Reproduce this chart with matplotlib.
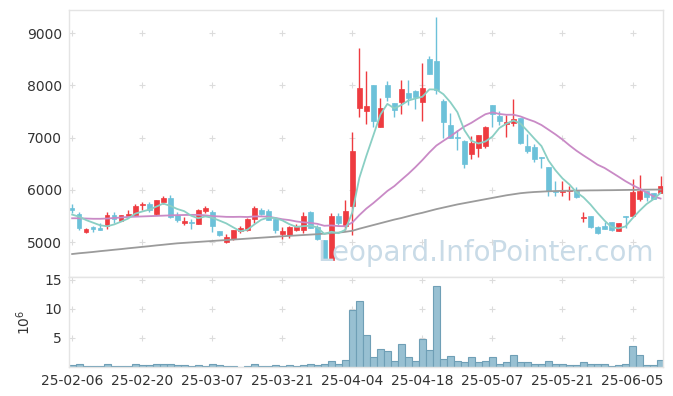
import matplotlib
matplotlib.use("Agg")
import matplotlib.pyplot as plt
import numpy as np

# ---- data ----
opens = [5650, 5540, 5190, 5290, 5270, 5300, 5520, 5410, 5500, 5525,
         5710, 5725, 5536, 5770, 5845, 5520, 5365, 5385, 5350, 5595,
         5570, 5210, 4995, 5065, 5215, 5235, 5445, 5610, 5595, 5440,
         5150, 5140, 5230, 5235, 5570, 5280, 5040, 4655, 5500, 5305,
         5695, 7575, 7500, 8005, 7200, 8005, 7660, 7690, 7855, 7890,
         7690, 8500, 8465, 7705, 7240, 7015, 6940, 6680, 6805, 6845,
         7625, 7415, 7255, 7285, 7370, 6840, 6815, 6620, 6430, 5985,
         5960, 5975, 5970, 5460, 5500, 5290, 5310, 5375, 5220, 5490,
         5505, 5825, 5970, 5930, 5945]
highs = [5720, 5575, 5275, 5310, 5370, 5570, 5570, 5525, 5605, 5730,
         5760, 5770, 5810, 5875, 5910, 5575, 5475, 5435, 5630, 5690,
         5615, 5215, 5150, 5230, 5305, 5465, 5690, 5650, 5630, 5445,
         5295, 5305, 5340, 5580, 5590, 5325, 5045, 5560, 5550, 5805,
         7105, 8710, 8275, 8010, 7755, 8090, 7670, 8100, 8100, 7910,
         8425, 8565, 9305, 7735, 7465, 7145, 6945, 7030, 7055, 7230,
         7630, 7500, 7435, 7735, 7380, 7070, 6880, 6625, 6435, 6175,
         6175, 6075, 6060, 5575, 5505, 5305, 5390, 5380, 5370, 5495,
         6200, 6280, 5975, 5940, 6265]
lows = [5560, 5230, 5180, 5190, 5225, 5240, 5360, 5405, 5475, 5510,
        5620, 5570, 5525, 5720, 5465, 5390, 5320, 5255, 5345, 5560,
        5185, 5120, 4985, 5045, 5165, 5215, 5370, 5510, 5415, 5180,
        5060, 5085, 5210, 5165, 5260, 5040, 4650, 4650, 5325, 5230,
        5135, 7390, 7255, 7210, 7195, 7700, 7390, 7445, 7625, 7540,
        7320, 8220, 7835, 7000, 6995, 6760, 6410, 6585, 6635, 6800,
        7195, 7250, 7020, 7220, 6880, 6700, 6540, 6425, 5880, 5880,
        5880, 5805, 5850, 5385, 5275, 5155, 5250, 5220, 5215, 5260,
        5500, 5790, 5790, 5820, 5940]
closes = [5610, 5260, 5250, 5250, 5230, 5520, 5435, 5520, 5545, 5695,
          5725, 5615, 5805, 5845, 5475, 5425, 5405, 5365, 5605, 5650,
          5300, 5140, 5090, 5225, 5275, 5440, 5650, 5545, 5430, 5230,
          5215, 5295, 5280, 5500, 5265, 5065, 4660, 5495, 5360, 5590,
          6745, 7950, 7605, 7325, 7575, 7775, 7520, 7925, 7755, 7770,
          7945, 8225, 7910, 7305, 7000, 6990, 6500, 6895, 7050, 7195,
          7460, 7325, 7305, 7355, 6900, 6750, 6585, 6600, 5970, 5965,
          5975, 5995, 5855, 5485, 5280, 5180, 5255, 5225, 5365, 5470,
          5960, 5970, 5870, 5830, 6070]
volumes = [0.3, 0.45, 0.15, 0.15, 0.15, 0.45, 0.15, 0.15, 0.15, 0.6,
           0.3, 0.3, 0.6, 0.45, 0.6, 0.3, 0.3, 0.1, 0.3, 0.1,
           0.6, 0.35, 0.15, 0.15, 0.02, 0.1, 0.45, 0.1, 0.1, 0.3,
           0.1, 0.3, 0.1, 0.3, 0.45, 0.3, 0.45, 1.0, 0.45, 1.2,
           9.9, 11.3, 5.45, 1.7, 3.05, 2.7, 1.0, 3.9, 1.7, 1.0,
           4.8, 2.9, 13.9, 1.3, 1.85, 1.0, 0.8, 1.7, 0.8, 1.0,
           1.7, 0.45, 0.8, 2.0, 0.8, 0.8, 0.6, 0.45, 1.0, 0.45,
           0.45, 0.3, 0.3, 0.8, 0.6, 0.6, 0.45, 0.15, 0.3, 0.45,
           3.55, 2.0, 0.3, 0.3, 1.15]
# moving-average values before enough in-window closes exist
ma5_head = [5525, 5485, 5420, 5370]
ma20_head = [5455, 5455, 5450, 5445, 5445, 5450, 5460, 5470, 5480, 5485,
             5490, 5495, 5500, 5505, 5510, 5515, 5518, 5520, 5520]
ma_long = [4770, 4785, 4797, 4810, 4825, 4838, 4852, 4865, 4880, 4893,
           4907, 4920, 4935, 4948, 4962, 4975, 4984, 4993, 5002, 5011,
           5020, 5029, 5038, 5047, 5056, 5065, 5074, 5083, 5092, 5101,
           5110, 5118, 5126, 5134, 5142, 5150, 5160, 5170, 5180, 5195,
           5215, 5255, 5290, 5325, 5360, 5395, 5430, 5460, 5495, 5530,
           5560, 5595, 5630, 5660, 5690, 5720, 5745, 5770, 5795, 5820,
           5845, 5870, 5895, 5915, 5935, 5948, 5958, 5965, 5972, 5976,
           5980, 5983, 5985, 5987, 5989, 5990, 5992, 5993, 5995, 5997,
           5999, 6001, 6003, 6004, 6005]
tick_pos = [0, 10, 20, 30, 40, 50, 60, 70, 80]
tick_labels = ['25-02-06', '25-02-20', '25-03-07', '25-03-21', '25-04-04',
               '25-04-18', '25-05-07', '25-05-21', '25-06-05']
price_ticks = [5000, 6000, 7000, 8000, 9000]
vol_ticks = [5, 10, 15]

n = len(closes)
x = np.arange(n)
c = np.array(closes, float)
ma5 = np.array(ma5_head + [c[i - 4:i + 1].mean() for i in range(4, n)])
ma20 = np.array(ma20_head + [c[i - 19:i + 1].mean() for i in range(19, n)])

RED = '#ee3b40'
BLUE = '#6cc1d9'
SPINE = '#e4e4e4'
TXT = '#333333'

fig = plt.figure(figsize=(6.73, 3.96), dpi=100)
ax = fig.add_axes([69 / 673, 1 - 277 / 396, (663 - 69) / 673, 267 / 396])
axv = fig.add_axes([69 / 673, 1 - 367 / 396, (663 - 69) / 673, 90 / 396])

XL = (-0.45, n - 1 + 0.35)

# grid "+" marks
for a, yt in ((ax, price_ticks), (axv, vol_ticks)):
    gx, gy = np.meshgrid(tick_pos, yt)
    a.plot(gx.ravel(), gy.ravel(), ls='none', marker='+', ms=5, mew=0.8,
           color='#dcdcdc', zorder=0)

# watermark
fig.text(485 / 673, 1 - 253 / 396, 'Leopard.InfoPointer.com',
         fontsize=20, color='#c9dbe7', ha='center', va='center', zorder=1)

# candles
o = np.array(opens, float)
h = np.array(highs, float)
l = np.array(lows, float)
up = c >= o
cols = np.where(up, RED, BLUE)
ax.patch.set_alpha(0)
ax.vlines(x, l, h, colors=cols, lw=1.0, zorder=2)
bottoms = np.minimum(o, c)
heights = np.maximum(np.abs(c - o), 12)
ax.bar(x, heights, bottom=bottoms, width=0.66, color=cols, edgecolor=cols,
       lw=0.5, zorder=3)

ax.plot(x, ma_long, color='#9b9b9b', lw=1.3, zorder=4)
ax.plot(x, ma20, color='#c98ac6', lw=1.3, zorder=4)
ax.plot(x, ma5, color='#8acfc4', lw=1.3, zorder=4)

ax.set_xlim(*XL)
ax.set_ylim(4330, 9444)
ax.set_yticks(price_ticks)
ax.set_yticklabels([str(v) for v in price_ticks])
ax.set_xticks([])

# volume
axv.bar(x, volumes, width=1.0, color='#98c0d2', edgecolor='#6f9fb6', lw=0.8,
        zorder=2)
axv.set_xlim(*XL)
axv.set_ylim(0, 15.5)
axv.set_yticks(vol_ticks)
axv.set_yticklabels([str(v) for v in vol_ticks])
axv.set_xticks(tick_pos)
axv.set_xticklabels(tick_labels)
axv.set_ylabel('$10^6$', fontsize=10, color=TXT)
axv.yaxis.set_label_coords((33 - 69) / 594, 0.5)

for a in (ax, axv):
    for s in a.spines.values():
        s.set_color(SPINE)
        s.set_linewidth(1.0)
    a.tick_params(length=0, labelsize=10, colors=TXT, pad=5)

fig.savefig('out.png', dpi=100)
